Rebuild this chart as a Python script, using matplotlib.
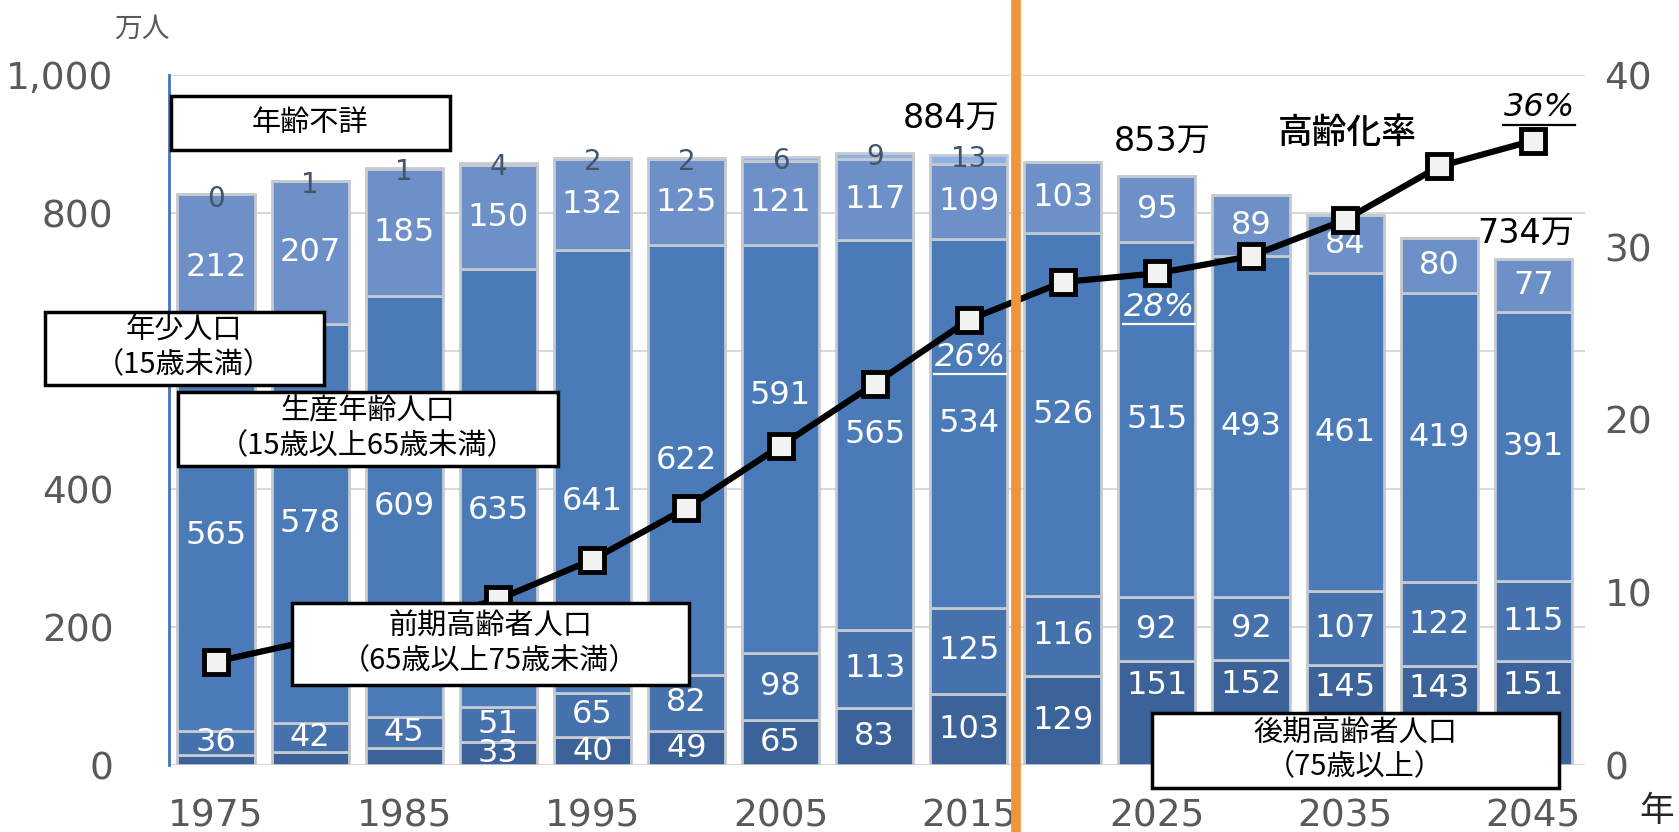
import matplotlib
matplotlib.use("Agg")
import matplotlib.pyplot as plt
from matplotlib.patches import Rectangle
import numpy as np

plt.rcParams['font.family'] = ['DejaVu Sans', 'Noto Sans CJK JP']

years = [1975, 1980, 1985, 1990, 1995, 2000, 2005, 2010, 2015,
         2020, 2025, 2030, 2035, 2040, 2045]
old75 = [14, 19, 25, 33, 40, 49, 65, 83, 103, 129, 151, 152, 145, 143, 151]
old65 = [36, 42, 45, 51, 65, 82, 98, 113, 125, 116, 92, 92, 107, 122, 115]
working = [565, 578, 609, 635, 641, 622, 591, 565, 534, 526, 515, 493, 461, 419, 391]
young = [212, 207, 185, 150, 132, 125, 121, 117, 109, 103, 95, 89, 84, 80, 77]
unknown = [0, 1, 1, 4, 2, 2, 6, 9, 13, None, None, None, None, None, None]
aging_rate = [6.0, 7.2, 8.1, 9.6, 11.9, 14.9, 18.5, 22.1, 25.8, 28.0, 28.5, 29.5, 31.6, 34.7, 36.2]
left_ticks = [0, 200, 400, 600, 800, 1000]
left_ticklabels = ['0', '200', '400', '', '800', '1,000']   # 600 is hidden behind a box
right_ticks = [0, 10, 20, 30, 40]
xtick_years = [1975, 1985, 1995, 2005, 2015, 2025, 2035, 2045]

# label placement tweaks (in value units), as in the original chart
unlabeled_old75 = {1975, 1980, 1985}
old75_label_raise = {2025: 40, 2030: 40, 2035: 40, 2040: 40, 2045: 40}
working_label_shift = {1990: -33, 1995: -43, 2005: 77}

W, H = 1679, 832
fig = plt.figure(figsize=(W / 100, H / 100), dpi=100)
ax = fig.add_axes([169 / W, 1 - 765 / H, (1585 - 169) / W, (765 - 75) / H])

x = np.arange(len(years))
unk = np.array([u if u is not None else 0 for u in unknown], dtype=float)
o75 = np.array(old75, float)
o65 = np.array(old65, float)
wk = np.array(working, float)
yg = np.array(young, float)

c75 = '#3B6299'
c65 = '#4571AD'
cwk = '#4A7BB8'
cyg = '#6D90C9'
cun = '#8FB1E3'
edge = '#C5C9D0'
bw = 0.82

ax.bar(x, o75, bw, color=c75, edgecolor=edge, linewidth=2, zorder=2)
ax.bar(x, o65, bw, bottom=o75, color=c65, edgecolor=edge, linewidth=2, zorder=2)
ax.bar(x, wk, bw, bottom=o75 + o65, color=cwk, edgecolor=edge, linewidth=2, zorder=2)
ax.bar(x, yg, bw, bottom=o75 + o65 + wk, color=cyg, edgecolor=edge, linewidth=2, zorder=2)
ax.bar(x, unk, bw, bottom=o75 + o65 + wk + yg, color=cun, edgecolor=edge, linewidth=2, zorder=2)

lab_kw = dict(ha='center', va='center', color='white', fontsize=23, zorder=4)
for i, yr in enumerate(years):
    if yr not in unlabeled_old75:
        ax.text(x[i], o75[i] / 2 + old75_label_raise.get(yr, 0), f'{old75[i]}', **lab_kw)
    ax.text(x[i], o75[i] + o65[i] / 2, f'{old65[i]}', **lab_kw)
    ax.text(x[i], o75[i] + o65[i] + wk[i] / 2 + working_label_shift.get(yr, 0),
            f'{working[i]}', **lab_kw)
    ax.text(x[i], o75[i] + o65[i] + wk[i] + yg[i] / 2, f'{young[i]}', **lab_kw)
    if unknown[i] is not None:
        tot = o75[i] + o65[i] + wk[i] + yg[i] + unk[i]
        ax.text(x[i], tot - 6, f'{unknown[i]}', ha='center', va='center',
                color='#44546A', fontsize=20, zorder=4)

ax.set_xlim(-0.5, 14.55)
ax.set_ylim(0, 1000)
ax.set_yticks(left_ticks)
ax.set_yticklabels(left_ticklabels)
ax.set_xticks([years.index(y) for y in xtick_years])
ax.set_xticklabels([str(y) for y in xtick_years])
ax.tick_params(axis='both', length=0, labelsize=27, labelcolor='#595959')
ax.tick_params(axis='x', pad=24)
ax.tick_params(axis='y', pad=40)
ax.yaxis.grid(True, color='#D9D9D9', linewidth=1.5)
ax.set_axisbelow(True)
for s in ['top', 'right', 'bottom']:
    ax.spines[s].set_visible(False)
ax.spines['left'].set_color('#4472C4')
ax.spines['left'].set_linewidth(2)

ax2 = ax.twinx()
ax2.set_ylim(0, 40)
ax2.set_yticks(right_ticks)
ax2.tick_params(axis='y', length=0, labelsize=27, labelcolor='#595959', pad=14)
for s in ax2.spines.values():
    s.set_visible(False)
ax2.plot(x, aging_rate, color='black', linewidth=4.5, marker='s', markersize=17,
         markerfacecolor='#F2F2F2', markeredgecolor='black', markeredgewidth=3.5, zorder=5)

# orange divider between actual and projection
ax2.axvline(8.5, color='#F0943E', linewidth=7, zorder=10, clip_on=False,
            ymin=-0.12, ymax=1.15)

cjk = ['Noto Sans CJK JP', 'DejaVu Sans']


def box(cx, cy, w, h, text, fs=21):
    r = Rectangle(((cx - w / 2) / W, 1 - (cy + h / 2) / H), w / W, h / H,
                  transform=fig.transFigure, facecolor='white', edgecolor='black',
                  linewidth=2.5, zorder=20)
    fig.add_artist(r)
    fig.text(cx / W, 1 - cy / H, text, ha='center', va='center', fontsize=fs,
             linespacing=1.2, zorder=21, family=cjk)


box(310, 123, 279, 54, '年齢不詳')
box(184, 348, 279, 73, '年少人口\n（15歳未満）')
box(368, 429, 380, 74, '生産年齢人口\n（15歳以上65歳未満）')
box(490, 644, 397, 82, '前期高齢者人口\n（65歳以上75歳未満）')
box(1355, 750, 407, 75, '後期高齢者人口\n（75歳以上）')

fig.text(142 / W, 1 - 29 / H, '万人', ha='center', va='center', fontsize=20,
         color='#595959', family=cjk)
fig.text(1657 / W, 1 - 811 / H, '年', ha='center', va='center', fontsize=25,
         color='#262626', family=cjk)

for (px, py, s) in [(951, 118, '884万'), (1162, 141, '853万'), (1526, 233, '734万')]:
    fig.text(px / W, 1 - py / H, s, ha='center', va='center', fontsize=24,
             color='black', family=['DejaVu Sans', 'Noto Sans CJK JP'], zorder=30)
fig.text(1347 / W, 1 - 133 / H, '高齢化率', ha='center', va='center', fontsize=25,
         color='black', style='italic', fontweight='medium', family=cjk, zorder=30)

pct_texts = []
for (px, py, s, col) in [(970, 357, '26%', 'white'), (1159, 307, '28%', 'white'),
                         (1539, 108, '36%', 'black')]:
    t = fig.text(px / W, 1 - py / H, s, ha='center', va='center', fontsize=23,
                 color=col, style='italic', zorder=30)
    pct_texts.append((t, col))

fig.canvas.draw()
r = fig.canvas.get_renderer()
for t, col in pct_texts:
    bb = t.get_window_extent(r)
    yb = bb.y0 - 1
    fig.add_artist(plt.Line2D([bb.x0 / W, bb.x1 / W], [yb / H, yb / H],
                              transform=fig.transFigure, color=col, linewidth=1.6, zorder=30))

fig.savefig('out.png', dpi=100)
